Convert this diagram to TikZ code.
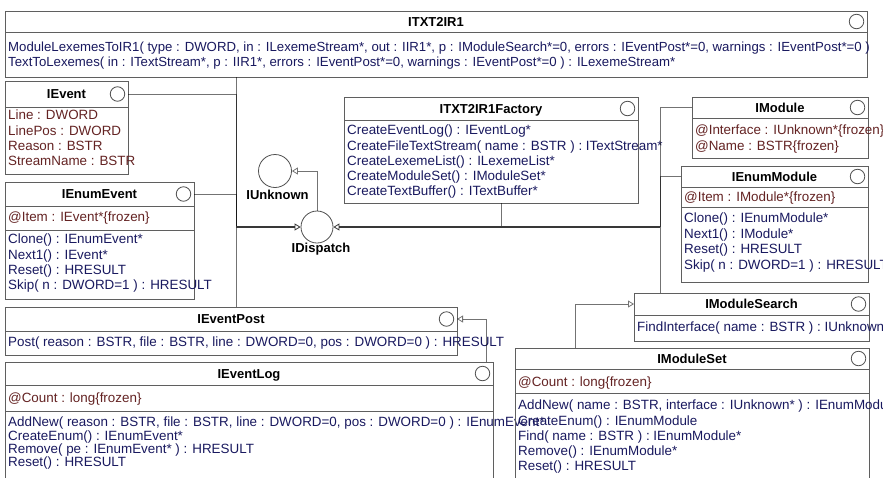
\documentclass[tikz,border=0pt]{standalone}
\usepackage{fontspec}
\setmainfont{Liberation Sans}
\usetikzlibrary{arrows.meta, positioning}
\definecolor{boxgray}{RGB}{95, 95, 95}
\definecolor{icongray}{RGB}{80, 80, 80}
\definecolor{attrred}{RGB}{100, 35, 35}
\definecolor{methblue}{RGB}{25, 25, 95}
\newcommand{\topstrut}{\rule{0pt}{10pt}}

\begin{document}
\begin{tikzpicture}[
    x=1pt, y=-1pt,
    title/.style={rectangle, draw=boxgray, line width=0.9pt, outer sep=0pt, inner sep=0pt, anchor=north west, font=\bfseries\fontsize{13}{15}\selectfont, text height=9.4pt, text depth=0pt},
    comp/.style={rectangle, draw=boxgray, line width=0.9pt, outer sep=0pt, inner sep=0pt, anchor=north west},
    attrs/.style={anchor=north west, inner sep=0pt, align=left, text=attrred, font=\fontsize{13.4}{15.3}\selectfont},
    meths/.style={anchor=north west, inner sep=0pt, align=left, text=methblue, font=\fontsize{13.4}{15.3}\selectfont},
    icon/.style={circle, draw=icongray, line width=0.8pt, minimum size=14.5pt, inner sep=0pt},
    iface/.style={circle, draw=icongray, line width=0.8pt, minimum size=33pt, inner sep=0pt},
    ifname/.style={font=\bfseries\fontsize{13}{15}\selectfont, inner sep=0pt},
    link/.style={draw=black, draw opacity=0.55, line width=0.8pt},
    inh/.style={link, -{Triangle[open, length=6pt, width=7pt, line width=0.8pt]}},
    trunk/.style={draw=black!78, line width=1.4pt, -{Triangle[open, length=6pt, width=7pt, line width=0.8pt]}}
]
    \fill [white] (0,0) rectangle (883,477);
    \useasboundingbox (0,0) rectangle (883,477);

    % ITXT2IR1
    \node (txt) [title, minimum width=862pt, minimum height=21pt] at (5,11) {ITXT2IR1};
    \node (txt-m) [comp, minimum width=862pt, minimum height=45pt] at (txt.south west) {};
    \node (txt-i) [icon] at ([xshift=-10.5pt]txt.east) {};
    \node (txt-mt) [meths, font=\fontsize{13.2}{15}\selectfont] at (8,41.5) {\topstrut ModuleLexemesToIR1( type : DWORD, in : ILexemeStream*, out : IIR1*, p : IModuleSearch*=0, errors : IEventPost*=0, warnings : IEventPost*=0 )\\
        TextToLexemes( in : ITextStream*, p : IIR1*, errors : IEventPost*=0, warnings : IEventPost*=0 ) : ILexemeStream*};

    % IEvent
    \node (event) [title, minimum width=123pt, minimum height=26pt] at (5,81) {IEvent};
    \node (event-a) [comp, minimum width=123pt, minimum height=67pt] at (event.south west) {};
    \node (event-i) [icon] at ([xshift=-10.5pt]event.east) {};
    \node (event-at) [attrs] at (8,109.7) {\topstrut Line : DWORD\\ LinePos : DWORD\\ Reason : BSTR\\ StreamName : BSTR};

    % IEnumEvent
    \node (enumevent) [title, minimum width=189pt, minimum height=24pt] at (5,182) {IEnumEvent};
    \node (enumevent-a) [comp, minimum width=189pt, minimum height=24pt] at (enumevent.south west) {};
    \node (enumevent-m) [comp, minimum width=189pt, minimum height=69pt] at (enumevent-a.south west) {};
    \node (enumevent-i) [icon] at ([xshift=-10.5pt]enumevent.east) {};
    \node (enumevent-at) [attrs] at (8,211.5) {\topstrut @Item : IEvent*\{frozen\}};
    \node (enumevent-mt) [meths] at (8,233.7) {\topstrut Clone() : IEnumEvent*\\ Next1() : IEvent*\\ Reset() : HRESULT\\ Skip( n : DWORD=1 ) : HRESULT};

    % IEventPost
    \node (eventpost) [title, minimum width=452pt, minimum height=24pt] at (5,307) {IEventPost};
    \node (eventpost-m) [comp, minimum width=452pt, minimum height=24pt] at (eventpost.south west) {};
    \node (eventpost-i) [icon] at ([xshift=-10.5pt]eventpost.east) {};
    \node (eventpost-mt) [meths] at (8,336.5) {\topstrut Post( reason : BSTR, file : BSTR, line : DWORD=0, pos : DWORD=0 ) : HRESULT};

    % IEventLog
    \node (eventlog) [title, minimum width=488pt, minimum height=23pt] at (5,362) {IEventLog};
    \node (eventlog-a) [comp, minimum width=488pt, minimum height=26pt] at (eventlog.south west) {};
    \node (eventlog-m) [comp, minimum width=488pt, minimum height=89pt] at (eventlog-a.south west) {};
    \node (eventlog-i) [icon] at ([xshift=-10.5pt]eventlog.east) {};
    \node (eventlog-at) [attrs] at (8,392) {\topstrut @Count : long\{frozen\}};
    \node (eventlog-mt) [meths, font=\fontsize{13.4}{13.3}\selectfont] at (8,416.5) {\topstrut AddNew( reason : BSTR, file : BSTR, line : DWORD=0, pos : DWORD=0 ) : IEnumEvent*\\ CreateEnum() : IEnumEvent*\\ Remove( pe : IEnumEvent* ) : HRESULT\\ Reset() : HRESULT};

    % ITXT2IR1Factory
    \node (factory) [title, minimum width=294pt, minimum height=23pt] at (344,97) {ITXT2IR1Factory};
    \node (factory-m) [comp, minimum width=294pt, minimum height=83pt] at (factory.south west) {};
    \node (factory-i) [icon] at ([xshift=-10.5pt]factory.east) {};
    \node (factory-mt) [meths, font=\fontsize{13.4}{15.2}\selectfont] at (347,124.7) {\topstrut CreateEventLog() : IEventLog*\\ CreateFileTextStream( name : BSTR ) : ITextStream*\\ CreateLexemeList() : ILexemeList*\\ CreateModuleSet() : IModuleSet*\\ CreateTextBuffer() : ITextBuffer*};

    % IModule
    \node (module) [title, minimum width=176pt, minimum height=21pt] at (692,97) {IModule};
    \node (module-a) [comp, minimum width=176pt, minimum height=40pt] at (module.south west) {};
    \node (module-i) [icon] at ([xshift=-10.5pt]module.east) {};
    \node (module-at) [attrs, font=\fontsize{13.4}{15.5}\selectfont] at (695,124.7) {\topstrut @Interface : IUnknown*\{frozen\}\\ @Name : BSTR\{frozen\}};

    % IEnumModule
    \node (enummodule) [title, minimum width=187pt, minimum height=21pt] at (681,166) {IEnumModule};
    \node (enummodule-a) [comp, minimum width=187pt, minimum height=20pt] at (enummodule.south west) {};
    \node (enummodule-m) [comp, minimum width=187pt, minimum height=75pt] at (enummodule-a.south west) {};
    \node (enummodule-i) [icon] at ([xshift=-10.5pt]enummodule.east) {};
    \node (enummodule-at) [attrs] at (684,191.5) {\topstrut @Item : IModule*\{frozen\}};
    \node (enummodule-mt) [meths, font=\fontsize{13.4}{15.5}\selectfont] at (684,212.5) {\topstrut Clone() : IEnumModule*\\ Next1() : IModule*\\ Reset() : HRESULT\\ Skip( n : DWORD=1 ) : HRESULT};

    % IModuleSearch
    \node (modsearch) [title, minimum width=235pt, minimum height=22pt] at (634,293) {IModuleSearch};
    \node (modsearch-m) [comp, minimum width=235pt, minimum height=26pt] at (modsearch.south west) {};
    \node (modsearch-i) [icon] at ([xshift=-10.5pt]modsearch.east) {};
    \node (modsearch-mt) [meths] at (637,321.4) {\topstrut FindInterface( name : BSTR ) : IUnknown*};

    % IModuleSet
    \node (modset) [title, minimum width=354pt, minimum height=21pt] at (515,348) {IModuleSet};
    \node (modset-a) [comp, minimum width=354pt, minimum height=24pt] at (modset.south west) {};
    \node (modset-m) [comp, minimum width=354pt, minimum height=107pt] at (modset-a.south west) {};
    \node (modset-i) [icon] at ([xshift=-10.5pt]modset.east) {};
    \node (modset-at) [attrs] at (518,376.3) {\topstrut @Count : long\{frozen\}};
    \node (modset-mt) [meths, font=\fontsize{13.4}{15.1}\selectfont] at (518,399.7) {\topstrut AddNew( name : BSTR, interface : IUnknown* ) : IEnumModule*\\ CreateEnum() : IEnumModule\\ Find( name : BSTR ) : IEnumModule*\\ Remove() : IEnumModule*\\ Reset() : HRESULT};

    % interfaces
    \node (idispatch) [iface, minimum size=32pt] at (317,227) {};
    \node (idispatch-l) [ifname] at (321,249) {IDispatch};
    \node (iunknown) [iface] at (275,171) {};
    \node (iunknown-l) [ifname] at (277.5,195) {IUnknown};

    % bus points
    \coordinate (lbus) at (236,227);
    \coordinate (rbus) at (660,227);
    \coordinate (fbus) at (501.7,227);
    \coordinate (logup) at (486.7,0);
    \coordinate (setup) at (575.7,0);

    % inheritance, left side
    \draw [link] (txt-m.south -| lbus) -- (lbus);
    \draw [link] (event.east) -| (lbus);
    \draw [link] (enumevent.east) -| (lbus);
    \draw [link] (eventpost.north -| lbus) -- (lbus);
    \draw [trunk] (lbus) -- (idispatch.west);

    % inheritance, right side
    \draw [link] (factory-m.south -| fbus) -- (fbus);
    \draw [link] (module.west) -| (rbus);
    \draw [link] (enummodule.west) -| (rbus);
    \draw [link] (modsearch.north -| rbus) -- (rbus);
    \draw [trunk] (rbus) -- (idispatch.east);

    \draw [inh] (idispatch.north) |- (iunknown.east);
    \draw [inh] (eventlog.north -| logup) |- (eventpost.east);
    \draw [inh] (modset.north -| setup) |- (modsearch.west);

\end{tikzpicture}
\end{document}
